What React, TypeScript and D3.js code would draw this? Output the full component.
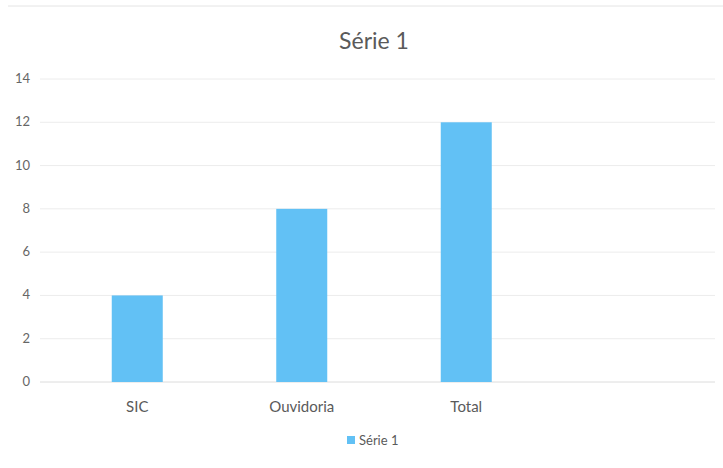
import React from "react";
import * as d3 from "d3";

const categories = ["SIC", "Ouvidoria", "Total", ""];
const values = [4, 8, 12, null];
const yTicks = [0, 2, 4, 6, 8, 10, 12, 14];
const seriesName = "Série 1";

const W = 723;
const H = 468;
const FONT = "Lato, 'Open Sans', sans-serif";

export default function App() {
  const x = d3.scaleBand().domain(categories.map((c, i) => String(i))).range([55, 713]).paddingInner(0.69).paddingOuter(0.345);
  const y = d3.scaleLinear().domain([0, 14]).range([382, 79]);
  const bw = 51;
  return (
    <svg width={W} height={H} style={{ position: "absolute", left: 0, top: 0, background: "#fff" }}>
      <rect x={0} y={0} width={W} height={H} fill="#fff" />
      <line x1={8} x2={W} y1={6} y2={6} stroke="#e4e4e4" />
      <text x={374} y={49} textAnchor="middle" fontFamily={FONT} fontSize={23} fill="#5a5a5a">{seriesName}</text>
      {yTicks.map((t) => (
        <g key={t}>
          <line x1={40} x2={715} y1={y(t)} y2={y(t)} stroke={t === 0 ? "#dcdcdc" : "#ececec"} strokeWidth={1} />
          <text x={30} y={y(t) + 4} textAnchor="end" fontFamily={FONT} fontSize={13} fill="#666">{t}</text>
        </g>
      ))}
      {categories.map((c, i) => {
        const cx = (x(String(i)) as number) + x.bandwidth() / 2;
        const v = values[i];
        return (
          <g key={i}>
            {v != null && (
              <rect x={cx - bw / 2} y={y(v)} width={bw} height={y(0) - y(v)} fill="#62c1f5" />
            )}
            <text x={cx} y={412} textAnchor="middle" fontFamily={FONT} fontSize={15} fill="#5a5a5a">{c}</text>
          </g>
        );
      })}
      <rect x={347} y={436} width={8} height={8} fill="#62c1f5" />
      <text x={359} y={445} fontFamily={FONT} fontSize={13} fill="#5a5a5a">{seriesName}</text>
    </svg>
  );
}
